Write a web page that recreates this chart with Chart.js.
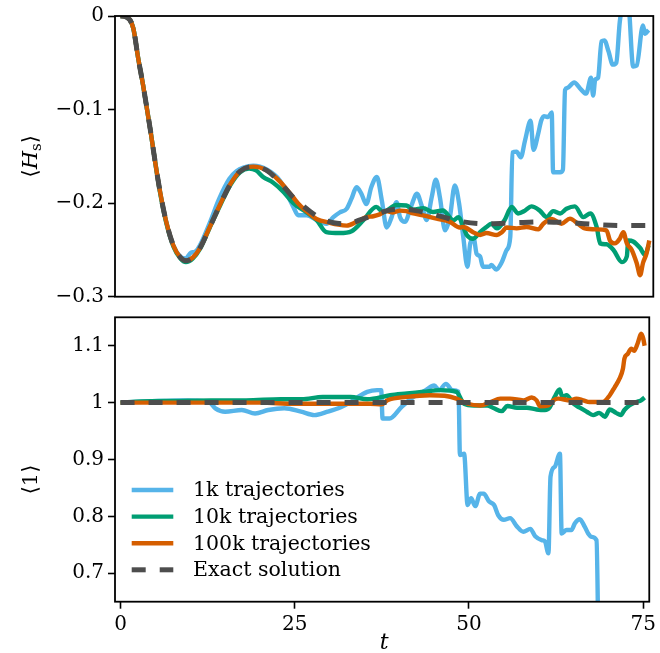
<!DOCTYPE html>
<html>
<head>
<meta charset="utf-8">
<script src="https://cdn.jsdelivr.net/npm/chart.js@4.4.1/dist/chart.umd.min.js"></script>
<style>
  html, body { margin: 0; padding: 0; background: #ffffff; }
  #wrap { position: relative; width: 660px; height: 653px; }
  #wrap canvas { position: absolute; left: 0; top: 0; }
</style>
</head>
<body>
<div id="wrap">
  <canvas id="energy" width="660" height="653"></canvas>
  <canvas id="norm" width="660" height="653"></canvas>
</div>
<script>
// ---- series names ----
const seriesLabels = ['1k trajectories', '10k trajectories', '100k trajectories', 'Exact solution'];

// ---- <H_s>(t) ----
const tExactH = [0,0.8,1.8,2.5,3.2,4.2,4.9,5.6,6.5,7.5,8.5,9.3,10.3,11.3,12.7,14.2,15.6,17.0,18.9,20.8,22.7,24.6,26.5,28.4,30.3,32.2,34.1,36.0,38.0,40.0,42.0,44.0,46.0,48.0,52,56,60,64,68,72,75.3];
const hExact  = [0,-0.001,-0.013,-0.045,-0.074,-0.120,-0.155,-0.187,-0.220,-0.245,-0.258,-0.2615,-0.258,-0.248,-0.2255,-0.201,-0.180,-0.166,-0.161,-0.165,-0.178,-0.194,-0.206,-0.216,-0.221,-0.222,-0.218,-0.213,-0.208,-0.206,-0.208,-0.211,-0.215,-0.219,-0.222,-0.221,-0.220,-0.221,-0.223,-0.224,-0.224];

const tBlueH = [0,0.8,1.8,2.5,3.2,4.2,4.9,5.6,6.5,7.5,8.5,9.3,10.0,10.6,11.3,12.7,14.0,15.5,16.5,17.5,18.9,20.8,22.7,24.6,25.3,26.5,27.9,29.3,30.3,31.2,32.2,32.9,33.6,34.3,35.0,35.7,36.5,37.2,37.9,38.6,39.3,39.8,40.5,41.4,42.2,42.9,43.6,44.3,44.9,45.5,46.2,46.9,47.6,48.2,48.8,49.4,49.8,50.3,50.7,51.2,51.6,52.6,52.8,53.5,54.3,55.0,55.5,55.8,56.4,57.0,57.6,58.4,58.8,59.5,59.9,60.3,60.9,61.4,61.6,62.6,63.0,63.3,63.6,64.6,65.4,66.3,67.0,67.3,67.6,68.0,68.5,68.9,69.5,70.1,70.6,71.1,71.6,72.3,73.0,73.5,74.4,74.7,75.2];
const hBlue  = [0,-0.001,-0.013,-0.045,-0.074,-0.120,-0.155,-0.187,-0.220,-0.245,-0.257,-0.259,-0.253,-0.252,-0.245,-0.221,-0.196,-0.174,-0.166,-0.162,-0.160,-0.164,-0.176,-0.204,-0.213,-0.213,-0.218,-0.222,-0.215,-0.210,-0.206,-0.195,-0.183,-0.190,-0.201,-0.183,-0.172,-0.197,-0.226,-0.215,-0.199,-0.215,-0.220,-0.203,-0.190,-0.203,-0.218,-0.194,-0.175,-0.195,-0.229,-0.215,-0.181,-0.200,-0.236,-0.268,-0.243,-0.238,-0.254,-0.257,-0.268,-0.268,-0.266,-0.271,-0.263,-0.250,-0.236,-0.146,-0.145,-0.151,-0.133,-0.112,-0.143,-0.125,-0.112,-0.107,-0.108,-0.103,-0.167,-0.167,-0.164,-0.079,-0.077,-0.071,-0.077,-0.083,-0.066,-0.085,-0.068,-0.066,-0.027,-0.026,-0.038,-0.052,-0.050,-0.006,0.012,0.012,-0.054,-0.053,-0.010,-0.019,-0.015];

const tGreenH = [0,0.8,1.8,2.5,3.2,4.2,4.9,5.6,6.5,7.5,8.5,9.3,10.3,11.3,12.7,14.2,15.6,17.0,18.3,19.3,20.3,21.7,23.2,24.6,26.5,27.9,29.3,31.2,32.9,34.6,36.4,37.4,39.3,40.7,41.7,43.1,44.5,45.9,47.4,48.1,49.0,49.3,50.2,51.2,52.1,52.8,53.6,54.7,55.7,56.6,57.6,58.5,59.7,60.7,61.6,62.6,63.5,64.7,65.9,66.9,67.8,68.3,69.2,70.2,71.4,72.1,72.3,73.0,74.0,74.7,75.2];
const hGreen  = [0,-0.001,-0.013,-0.045,-0.074,-0.120,-0.155,-0.188,-0.221,-0.246,-0.259,-0.263,-0.259,-0.249,-0.226,-0.202,-0.181,-0.167,-0.163,-0.165,-0.172,-0.178,-0.188,-0.200,-0.210,-0.218,-0.231,-0.232,-0.230,-0.218,-0.204,-0.2095,-0.202,-0.2025,-0.207,-0.2053,-0.2095,-0.2078,-0.2184,-0.215,-0.229,-0.234,-0.238,-0.231,-0.2255,-0.222,-0.227,-0.218,-0.204,-0.211,-0.208,-0.2035,-0.208,-0.215,-0.2085,-0.211,-0.206,-0.2035,-0.215,-0.211,-0.2255,-0.243,-0.244,-0.250,-0.263,-0.257,-0.240,-0.241,-0.248,-0.2555,-0.245];

const tOrangeH = [0,0.8,1.8,2.5,3.2,4.2,4.9,5.6,6.5,7.5,8.5,9.3,10.3,11.3,12.7,14.2,15.6,17.0,18.9,20.8,22.7,24.6,25.5,27.0,27.9,29.8,31.0,32.2,33.6,35.0,36.0,36.9,37.9,38.8,39.8,40.7,41.7,43.1,45.0,46.9,48.3,48.8,50.2,51.2,52.1,53.6,54.3,55.0,56.4,57.8,59.5,60.2,61.4,62.8,64.0,65.2,66.1,67.8,69.2,69.7,70.4,71.1,71.6,72.1,72.8,73.5,74.0,74.4,74.9,75.3];
const hOrange  = [0,-0.001,-0.013,-0.045,-0.074,-0.120,-0.155,-0.187,-0.220,-0.245,-0.258,-0.2615,-0.258,-0.248,-0.2255,-0.201,-0.180,-0.166,-0.161,-0.165,-0.177,-0.194,-0.202,-0.212,-0.217,-0.221,-0.223,-0.224,-0.220,-0.215,-0.214,-0.212,-0.2085,-0.210,-0.208,-0.2085,-0.211,-0.213,-0.2166,-0.220,-0.226,-0.2255,-0.231,-0.234,-0.232,-0.234,-0.231,-0.226,-0.227,-0.2255,-0.228,-0.222,-0.217,-0.222,-0.2166,-0.2226,-0.227,-0.228,-0.229,-0.240,-0.243,-0.238,-0.231,-0.243,-0.250,-0.264,-0.277,-0.264,-0.254,-0.240];

// ---- <1>(t) ----
const tExactN = [0, 75.3];
const nExact  = [1, 1];

const tBlueN = [0,4.0,8.8,12.6,13.6,15.0,17.4,19.3,21.2,23.5,25.9,27.8,29.7,31.6,33.0,34.5,35.4,36.8,37.4,37.6,38.6,40.3,41.7,43.8,45.0,45.7,46.7,47.6,48.5,48.7,49.3,49.8,50.3,50.9,51.6,52.1,52.9,53.6,54.2,55.0,55.9,56.9,57.8,58.8,59.5,60.5,60.9,61.4,61.7,62.3,63.05,63.3,64.0,64.7,65.2,65.9,66.6,67.1,67.6,68.3,68.6];
const nBlue  = [1.0,1.002,1.004,1.002,0.990,0.984,0.987,0.981,0.987,0.990,0.984,0.978,0.984,0.992,1.001,1.013,1.019,1.022,1.022,0.972,0.972,0.992,1.007,1.022,1.030,1.022,1.033,1.022,1.019,0.908,0.910,0.820,0.832,0.818,0.840,0.840,0.826,0.820,0.802,0.794,0.797,0.782,0.773,0.778,0.765,0.758,0.756,0.735,0.870,0.887,0.910,0.770,0.776,0.776,0.788,0.795,0.782,0.770,0.764,0.758,0.55];

const tGreenN = [0,3,8,13,18,23,26,29,33,35.4,38.7,41.1,43.5,45.9,48.2,49.3,50.7,52.6,53.6,54.7,55.5,56.9,58.3,59.7,60.9,61.6,62.3,63.0,63.4,64.0,65.0,65.9,66.9,67.8,68.7,69.5,70.2,71.1,71.8,72.3,73.0,74.0,74.7,75.2];
const nGreen  = [1.0,1.002,1.003,1.004,1.004,1.006,1.006,1.010,1.010,1.006,1.013,1.016,1.019,1.022,1.019,0.998,0.995,0.995,0.990,0.985,0.994,0.991,0.991,0.988,0.987,0.992,1.010,1.023,1.010,1.013,0.998,0.991,0.984,0.978,0.982,0.975,0.988,0.982,0.978,0.987,0.995,1.001,1.004,1.009];

const tOrangeN = [0,10,20,25,30,35.8,37.5,38.3,41.1,44.4,46.5,48.2,49.8,51.6,53.1,54.5,55.9,57.8,59.0,59.7,60.2,61.4,62.1,62.8,64.5,65.4,66.4,67.3,68.3,69.2,70.2,70.9,71.6,72.1,72.3,72.8,73.3,73.7,74.2,74.7,75.0,75.2];
const nOrange  = [1.0,1.0,1.0,0.998,0.998,0.998,0.997,1.004,1.010,1.013,1.012,1.007,0.998,0.995,1.001,1.007,1.007,1.004,1.009,1.004,0.9935,0.995,1.004,1.007,1.004,1.007,1.004,1.001,1.001,1.001,1.013,1.027,1.042,1.060,1.077,1.086,1.095,1.091,1.104,1.121,1.113,1.100];

// ---- axes ----
const tTicks = [0, 25, 50, 75];
const tTickLabels = ['0', '25', '50', '75'];
const hTicks = [-0.3, -0.2, -0.1, 0];
const hTickLabels = ['\u22120.3', '\u22120.2', '\u22120.1', '0'];
const nTicks = [0.7, 0.8, 0.9, 1.0, 1.1];
const nTickLabels = ['0.7', '0.8', '0.9', '1', '1.1'];

// ---- style ----
const SERIF = '"DejaVu Serif", "Liberation Serif", serif';
const COLORS = { blue: '#56B4E9', green: '#009E73', orange: '#D55E00', exact: '#4D4D4D' };
const DASH = [14, 14];
const CANVAS_W = 660, CANVAS_H = 653;
const AREA_LEFT = 115, AREA_RIGHT = 653.3;
const TOP_PANEL = { top: 14, bottom: 296.7 };
const BOTTOM_PANEL = { top: 317.3, bottom: 601.7 };

const zip = (xs, ys) => xs.map((x, i) => ({ x: x, y: ys[i] }));

function lineSet(label, xs, ys, color, order, dashed) {
  return {
    label: label,
    data: zip(xs, ys),
    borderColor: color,
    backgroundColor: color,
    borderWidth: dashed ? 5 : 4.4,
    borderDash: dashed ? DASH : [],
    borderCapStyle: 'butt',
    borderJoinStyle: 'round',
    pointRadius: 0,
    cubicInterpolationMode: 'monotone',
    fill: false,
    clip: 0,
    order: order
  };
}

function seriesFor(tb, yb, tg, yg, to, yo, te, ye) {
  return [
    lineSet(seriesLabels[0], tb, yb, COLORS.blue, 3, false),
    lineSet(seriesLabels[1], tg, yg, COLORS.green, 2, false),
    lineSet(seriesLabels[2], to, yo, COLORS.orange, 1, false),
    lineSet(seriesLabels[3], te, ye, COLORS.exact, 0, true)
  ];
}

// black box around each panel
const framePlugin = {
  id: 'panelFrame',
  afterDatasetsDraw(chart) {
    const a = chart.chartArea, ctx = chart.ctx;
    ctx.save();
    ctx.strokeStyle = '#000';
    ctx.lineWidth = 1.8;
    ctx.strokeRect(a.left, a.top, a.right - a.left, a.bottom - a.top);
    ctx.restore();
  }
};

// draws a run of text pieces [text, font, dy] laid out left to right, centred at (cx, cy)
function drawPieces(ctx, pieces, cx, cy, rotate) {
  ctx.save();
  ctx.translate(cx, cy);
  if (rotate) ctx.rotate(-Math.PI / 2);
  ctx.fillStyle = '#000';
  ctx.textBaseline = 'alphabetic';
  ctx.textAlign = 'left';
  let total = 0;
  const widths = pieces.map(p => { ctx.font = p[1]; const w = ctx.measureText(p[0]).width; total += w; return w; });
  let x = -total / 2;
  pieces.forEach((p, i) => {
    ctx.font = p[1];
    ctx.fillText(p[0], x, p[2]);
    x += widths[i];
  });
  ctx.restore();
}

const energyTitle = {
  id: 'energyTitle',
  afterDraw(chart) {
    const a = chart.chartArea;
    drawPieces(chart.ctx, [
      ['\u27E8', '21px ' + SERIF, 7],
      ['H', 'italic 21px ' + SERIF, 7],
      ['s', '15px ' + SERIF, 11],
      ['\u27E9', '21px ' + SERIF, 7]
    ], 30, (a.top + a.bottom) / 2, true);
  }
};

const normTitles = {
  id: 'normTitles',
  afterDraw(chart) {
    const a = chart.chartArea;
    drawPieces(chart.ctx, [
      ['\u27E8', '21px ' + SERIF, 7],
      ['1', '21px ' + SERIF, 7],
      ['\u27E9', '21px ' + SERIF, 7]
    ], 30, (a.top + a.bottom) / 2 + 20, true);
    drawPieces(chart.ctx, [['t', 'italic 22px ' + SERIF, 7]], (a.left + a.right) / 2 + 2, 642, false);
  }
};

const cornerLegend = {
  id: 'cornerLegend',
  afterDraw(chart) {
    const ctx = chart.ctx, a = chart.chartArea;
    const x0 = a.left + 16.7, x1 = x0 + 41.6, tx = a.left + 78;
    const y0 = a.top + 172.7, dy = 26.6;
    ctx.save();
    seriesLabels.forEach((name, i) => {
      const ds = chart.data.datasets.find(d => d.label === name);
      const y = y0 + i * dy;
      ctx.beginPath();
      ctx.strokeStyle = ds.borderColor;
      ctx.lineWidth = ds.borderWidth;
      ctx.lineCap = 'butt';
      ctx.setLineDash(ds.borderDash || []);
      ctx.moveTo(x0, y);
      ctx.lineTo(x1, y);
      ctx.stroke();
      ctx.setLineDash([]);
      ctx.fillStyle = '#000';
      ctx.font = '20.5px ' + SERIF;
      ctx.textBaseline = 'middle';
      ctx.textAlign = 'left';
      ctx.fillText(name, tx, y + 1);
    });
    ctx.restore();
  }
};

function yScale(min, max, ticks, labels) {
  return {
    type: 'linear',
    min: min,
    max: max,
    afterFit: s => { s.width = AREA_LEFT; },
    afterBuildTicks: s => { s.ticks = ticks.map(v => ({ value: v })); },
    ticks: {
      callback: (v, i) => labels[i],
      color: '#000',
      font: { family: SERIF, size: 20 },
      padding: 4
    },
    grid: { drawOnChartArea: false, drawTicks: true, tickLength: 7, tickWidth: 1.6, tickColor: '#000' },
    border: { display: false }
  };
}

const baseOptions = {
  responsive: false,
  animation: false,
  events: [],
  plugins: { legend: { display: false }, tooltip: { enabled: false } }
};

new Chart(document.getElementById('energy'), {
  type: 'line',
  data: { datasets: seriesFor(tBlueH, hBlue, tGreenH, hGreen, tOrangeH, hOrange, tExactH, hExact) },
  options: Object.assign({}, baseOptions, {
    layout: { padding: { left: 0, right: CANVAS_W - AREA_RIGHT, top: TOP_PANEL.top, bottom: CANVAS_H - TOP_PANEL.bottom } },
    scales: {
      x: { type: 'linear', min: -0.8, max: 75.87, display: false },
      y: yScale(-0.3, 0, hTicks, hTickLabels)
    }
  }),
  plugins: [framePlugin, energyTitle]
});

new Chart(document.getElementById('norm'), {
  type: 'line',
  data: { datasets: seriesFor(tBlueN, nBlue, tGreenN, nGreen, tOrangeN, nOrange, tExactN, nExact) },
  options: Object.assign({}, baseOptions, {
    layout: { padding: { left: 0, right: CANVAS_W - AREA_RIGHT, top: BOTTOM_PANEL.top, bottom: 0 } },
    scales: {
      x: {
        type: 'linear',
        min: -0.8,
        max: 75.87,
        afterFit: s => { s.height = CANVAS_H - BOTTOM_PANEL.bottom; },
        afterBuildTicks: s => { s.ticks = tTicks.map(v => ({ value: v })); },
        ticks: {
          callback: (v, i) => tTickLabels[i],
          color: '#000',
          font: { family: SERIF, size: 20 },
          padding: 4,
          maxRotation: 0
        },
        grid: { drawOnChartArea: false, drawTicks: true, tickLength: 7, tickWidth: 1.6, tickColor: '#000' },
        border: { display: false }
      },
      y: yScale(0.65, 1.15, nTicks, nTickLabels)
    }
  }),
  plugins: [framePlugin, normTitles, cornerLegend]
});
</script>
</body>
</html>
